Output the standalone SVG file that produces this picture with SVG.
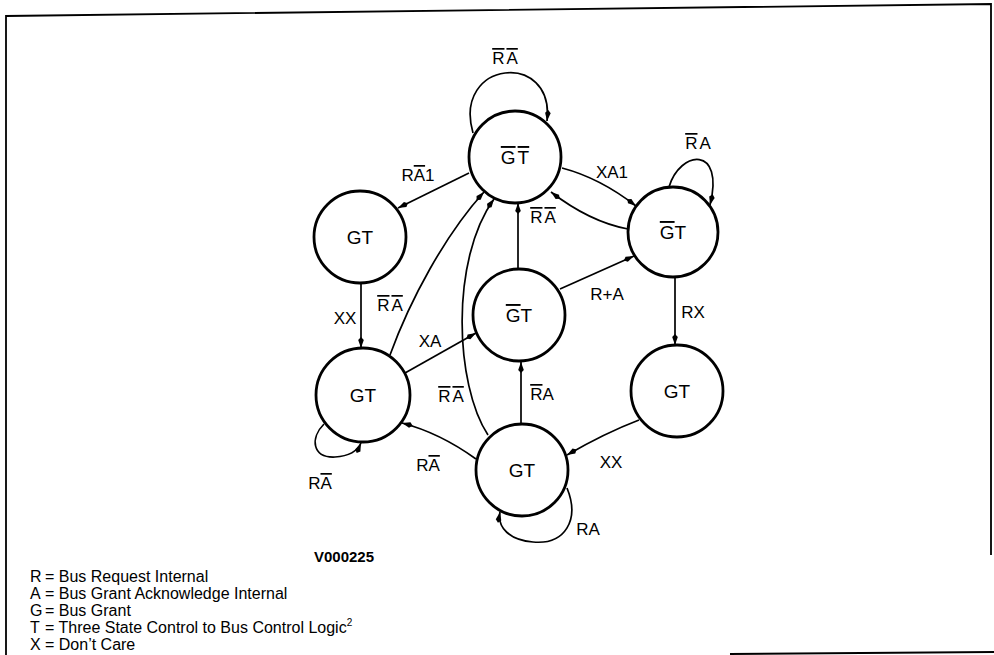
<svg xmlns="http://www.w3.org/2000/svg" width="994" height="655" viewBox="0 0 994 655">
<style>
.node circle{fill:#fff;stroke:#000;stroke-width:2.8}
.nl{font-family:"Liberation Sans",Arial,sans-serif;font-size:19px;text-anchor:middle;fill:#000}
.el{font-family:"Liberation Sans",Arial,sans-serif;font-size:17px;text-anchor:middle;fill:#000}
.ob{text-decoration:overline}
.c path{fill:none;stroke:#000;stroke-width:1.7;marker-end:url(#ah)}
.frame{fill:none;stroke:#000;stroke-width:1.8}
.lg{font-family:"Liberation Sans",Arial,sans-serif;font-size:16px;fill:#000}
</style>
<defs>
<marker id="ah" markerUnits="userSpaceOnUse" markerWidth="12" markerHeight="8" refX="11" refY="4" orient="auto">
<path d="M0,4 L3,1.2 L11,4 L3,6.8 z" fill="#000"/>
</marker>
</defs>
<rect width="994" height="655" fill="#fff"/>
<g id="frame">
<path class="frame" d="M6,655 L6,16 L991,4 L991,555"/>
<path class="frame" d="M730,654 L994,652"/>
</g>
<g class="c" id="connectors">
<path d="M473,133 C452,60 555,50 547,121"/>
<path d="M469,173 L398,208"/>
<path d="M562,168 Q600,178 636,206"/>
<path d="M628,229 Q590,222 551,192"/>
<path d="M669,187 C680,150 725,145 710,205"/>
<path d="M518,269 L518,203"/>
<path d="M390,355 C410,300 445,235 484,192"/>
<path d="M488,435 C455,385 450,260 494,199"/>
<path d="M361,283 L361,348"/>
<path d="M405,373 L476,333"/>
<path d="M560,289 L634,256"/>
<path d="M675,277 L675,345"/>
<path d="M639,420 Q605,433 567,455"/>
<path d="M521,424 L521,362"/>
<path d="M476,459 Q440,433 402,423"/>
<path d="M324,424 C310,438 312,458 335,457 C350,456 358,450 361,443"/>
<path d="M567,488 C580,520 565,545 533,542 C510,540 497,528 500,512"/>
</g>
<g id="labels">
<text class="el" x="505" y="64"><tspan class="ob">R</tspan><tspan class="ob" dx="2">A</tspan></text>
<text class="el" x="418" y="181">R<tspan class="ob">A</tspan>1</text>
<text class="el" x="612" y="178">XA1</text>
<text class="el" x="543" y="223"><tspan class="ob">R</tspan><tspan class="ob" dx="2">A</tspan></text>
<text class="el" x="698" y="149"><tspan class="ob">R</tspan><tspan dx="2">A</tspan></text>
<text class="el" x="390" y="311"><tspan class="ob">R</tspan><tspan class="ob" dx="2">A</tspan></text>
<text class="el" x="345" y="324">XX</text>
<text class="el" x="430" y="347">XA</text>
<text class="el" x="607" y="300">R+A</text>
<text class="el" x="693" y="318">RX</text>
<text class="el" x="451" y="402"><tspan class="ob">R</tspan><tspan class="ob" dx="2">A</tspan></text>
<text class="el" x="542" y="400"><tspan class="ob">R</tspan>A</text>
<text class="el" x="611" y="468">XX</text>
<text class="el" x="428" y="471">R<tspan class="ob">A</tspan></text>
<text class="el" x="320" y="489">R<tspan class="ob">A</tspan></text>
<text class="el" x="588" y="535">RA</text>
</g>
<g id="n1" class="node"><circle cx="515" cy="157" r="46"/><text class="nl" x="515" y="164"><tspan class="ob">G</tspan><tspan class="ob" dx="2">T</tspan></text></g>
<g id="n2" class="node"><circle cx="360" cy="237" r="46"/><text class="nl" x="360" y="244">GT</text></g>
<g id="n3" class="node"><circle cx="673" cy="232" r="45"/><text class="nl" x="673" y="239"><tspan class="ob">G</tspan>T</text></g>
<g id="n4" class="node"><circle cx="519" cy="315" r="46"/><text class="nl" x="519" y="322"><tspan class="ob">G</tspan>T</text></g>
<g id="n5" class="node"><circle cx="363" cy="395" r="47"/><text class="nl" x="363" y="402">GT</text></g>
<g id="n6" class="node"><circle cx="677" cy="391" r="46"/><text class="nl" x="677" y="398">GT</text></g>
<g id="n7" class="node"><circle cx="522" cy="470" r="46"/><text class="nl" x="522" y="477">GT</text></g>
<g id="legend">
<text x="344" y="562" style="font-family:'Liberation Sans',Arial,sans-serif;font-size:15px;font-weight:bold;text-anchor:middle">V000225</text>
<text class="lg" x="30" y="582">R<tspan x="45">= Bus Request Internal</tspan></text>
<text class="lg" x="30" y="599">A<tspan x="45">= Bus Grant Acknowledge Internal</tspan></text>
<text class="lg" x="30" y="616">G<tspan x="45">= Bus Grant</tspan></text>
<text class="lg" x="30" y="633">T<tspan x="45">= Three State Control to Bus Control Logic</tspan><tspan font-size="10" dy="-7">2</tspan></text>
<text class="lg" x="30" y="650">X<tspan x="45">= Don’t Care</tspan></text>
</g>
</svg>
